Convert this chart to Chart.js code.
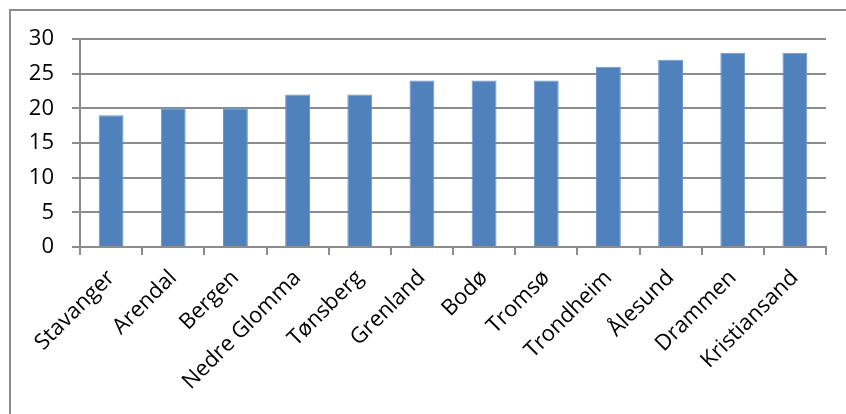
<!DOCTYPE html>
<html>
<head>
<meta charset="utf-8">
<script src="https://cdn.jsdelivr.net/npm/chart.js@4"></script>
<style>
  html, body { margin: 0; padding: 0; background: #fff; }
  #wrap { position: relative; width: 846px; height: 414px; }
</style>
</head>
<body>
<div id="wrap"><canvas id="cityChart" width="846" height="414"></canvas></div>
<script>
// Cities along the x axis, with one value each
const cities = ['Stavanger', 'Arendal', 'Bergen', 'Nedre Glomma', 'Tønsberg', 'Grenland',
  'Bodø', 'Tromsø', 'Trondheim', 'Ålesund', 'Drammen', 'Kristiansand'];
const values = [19, 20, 20, 22, 22, 24, 24, 24, 26, 27, 28, 28];
const yTicks = [0, 5, 10, 15, 20, 25, 30];

const gridGray = '#8c8c8c';
const fontFamily = "'Open Sans', sans-serif";

// outer frame of the chart box
const framePlugin = {
  id: 'frame',
  beforeDraw(chart) {
    const ctx = chart.ctx;
    ctx.save();
    ctx.strokeStyle = gridGray;
    ctx.lineWidth = 2;
    ctx.strokeRect(10, 10, 900, 500);
    ctx.restore();
  }
};

new Chart(document.getElementById('cityChart'), {
  type: 'bar',
  data: {
    labels: cities,
    datasets: [{
      data: values,
      backgroundColor: '#4f81bd',
      borderColor: '#6a96cc',
      borderWidth: 1,
      barPercentage: 0.4,
      categoryPercentage: 1
    }]
  },
  plugins: [framePlugin],
  options: {
    responsive: false,
    animation: false,
    layout: { padding: { top: 39, right: 20, left: 0, bottom: 0 } },
    plugins: {
      legend: { display: false },
      tooltip: { enabled: false }
    },
    scales: {
      y: {
        min: 0,
        max: 30,
        afterBuildTicks(scale) { scale.ticks = yTicks.map(v => ({ value: v })); },
        afterFit(scale) { scale.width = 80; },
        grid: { color: gridGray, lineWidth: 2, tickLength: 8 },
        border: { color: gridGray, width: 2 },
        ticks: {
          color: '#000',
          padding: 18,
          font: { family: fontFamily, size: 22 }
        }
      },
      x: {
        afterFit(scale) { scale.height = 167; },
        grid: { offset: true, drawOnChartArea: false, color: gridGray, lineWidth: 2, tickLength: 8 },
        border: { color: gridGray, width: 2 },
        ticks: {
          color: '#000',
          minRotation: 45,
          maxRotation: 45,
          autoSkip: false,
          padding: 10,
          font: { family: fontFamily, size: 22 }
        }
      }
    }
  }
});
</script>
</body>
</html>
